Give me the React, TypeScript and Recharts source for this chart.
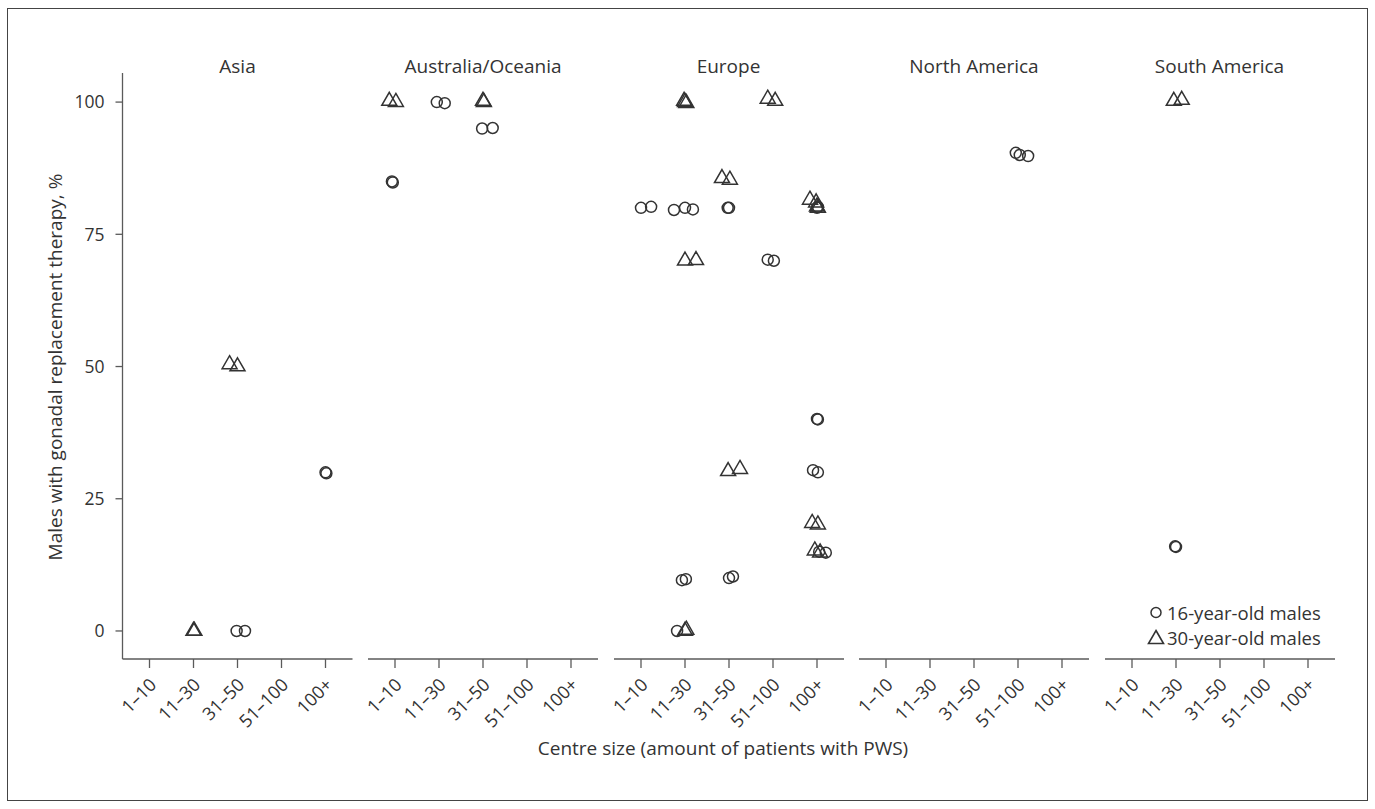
import { ScatterChart, Scatter, XAxis, YAxis, Legend } from "recharts";

const centreSizes = ["1–10", "11–30", "31–50", "51–100", "100+"];
const regions = ["Asia", "Australia/Oceania", "Europe", "North America", "South America"];
const pctTicks = [0, 25, 50, 75, 100];

// [centre size position (1..5, jittered), % of males on gonadal replacement therapy]
const asia16 = [[2.98, 0], [3.17, 0], [5.0, 30], [5.02, 29.8]];
const asia30 = [[2.0, 0], [2.02, 0], [2.82, 50.4], [3.0, 50]];

const oceania16 = [[1.95, 100], [2.13, 99.8], [2.98, 95], [3.22, 95.1], [0.93, 85], [0.95, 84.8]];
const oceania30 = [[0.87, 100.2], [1.02, 100], [3.0, 100.2], [3.02, 100]];

const europe16 = [
  [1.0, 80], [1.23, 80.2], [1.75, 79.6], [2.0, 80], [2.18, 79.7], [2.97, 80], [3.0, 80],
  [5.0, 80], [5.02, 80.2], [3.88, 70.2], [4.02, 70], [5.02, 40], [5.0, 40.1],
  [4.91, 30.4], [5.02, 30], [5.2, 14.8], [5.05, 15], [1.93, 9.6], [2.02, 9.8],
  [3.0, 10], [3.09, 10.3], [1.82, 0],
];
const europe30 = [
  [1.98, 100.2], [2.0, 100], [2.03, 99.8], [3.88, 100.6], [4.05, 100.2],
  [2.84, 85.6], [3.02, 85.3], [4.84, 81.5], [4.98, 81], [5.0, 80.2], [5.02, 80],
  [2.0, 70], [2.25, 70.1], [2.98, 30.2], [3.25, 30.6], [4.89, 20.4], [5.02, 20.1],
  [4.95, 15.2], [5.07, 14.8], [2.0, 0], [2.03, 0.2],
];

const northAmerica16 = [[3.95, 90.4], [4.04, 90], [4.23, 89.8]];
const northAmerica30: number[][] = [];

const southAmerica16 = [[1.98, 16], [2.0, 15.9]];
const southAmerica30 = [[1.95, 100.2], [2.13, 100.4]];

const males16 = [asia16, oceania16, europe16, northAmerica16, southAmerica16];
const males30 = [asia30, oceania30, europe30, northAmerica30, southAmerica30];

const toPoints = (rows: number[][]) => rows.map(([x, y]) => ({ x, y }));

const INK = "#333";
const AXIS = "#5a5a5a";
const FONT = "'Open Sans', sans-serif";

const PLOT_TOP = 73;
const PLOT_BOTTOM = 659;
const PLOT_W = 230;
const FIRST_LEFT = 122.5;
const STRIDE = 245.5;
const X_AXIS_H = 80;
const PAD = 27 / 44;

const CircleMark = (p: any) => (
  <circle cx={p.cx} cy={p.cy} r={5.5} fill="none" stroke={INK} strokeWidth={1.5} />
);

const TriangleMark = (p: any) => (
  <path
    d={`M${p.cx},${p.cy - 8.7}L${p.cx + 7.5},${p.cy + 4.3}L${p.cx - 7.5},${p.cy + 4.3}Z`}
    fill="none"
    stroke={INK}
    strokeWidth={1.5}
  />
);

const SizeTick = (p: any) => {
  const tx = p.x + 8;
  const ty = p.y + 18;
  return (
    <text
      x={tx}
      y={ty}
      transform={`rotate(-45, ${tx}, ${ty})`}
      textAnchor="end"
      fontSize={18}
      fill={INK}
    >
      {centreSizes[p.payload.value - 1]}
    </text>
  );
};

const LegendBox = (props: any) => (
  <div style={{ fontFamily: FONT, fontSize: 18.5, color: INK, lineHeight: "25px" }}>
    {(props.payload || []).map((entry: any, i: number) => (
      <div key={i} style={{ display: "flex", alignItems: "center", whiteSpace: "nowrap" }}>
        <svg width={20} height={25} style={{ marginRight: 1 }}>
          {i === 0 ? (
            <circle cx={10} cy={12.5} r={5} fill="none" stroke={INK} strokeWidth={1.5} />
          ) : (
            <path d="M10,5.5L17.5,18.5L2.5,18.5Z" fill="none" stroke={INK} strokeWidth={1.6} />
          )}
        </svg>
        {entry.value}
      </div>
    ))}
  </div>
);

const Panel = ({ i }: { i: number }) => {
  const first = i === 0;
  const last = i === regions.length - 1;
  const plotLeft = FIRST_LEFT + i * STRIDE;
  const ml = first ? 0 : 10;
  const yw = first ? plotLeft : 0;
  const chartLeft = first ? 0 : plotLeft - ml;
  const width = ml + yw + PLOT_W + 10;
  return (
    <div style={{ position: "absolute", left: chartLeft, top: 0 }}>
      <ScatterChart
        width={width}
        height={PLOT_BOTTOM + X_AXIS_H}
        margin={{ top: PLOT_TOP, right: 10, bottom: 0, left: ml }}
      >
        <XAxis
          type="number"
          dataKey="x"
          domain={[1 - PAD, 5 + PAD]}
          ticks={[1, 2, 3, 4, 5]}
          interval={0}
          allowDataOverflow
          height={X_AXIS_H}
          stroke={AXIS}
          strokeWidth={1.3}
          tickSize={9}
          tickMargin={0}
          tick={<SizeTick />}
        />
        <YAxis
          type="number"
          dataKey="y"
          domain={[-5.3, 105.5]}
          ticks={pctTicks}
          allowDataOverflow
          width={yw}
          stroke={AXIS}
          strokeWidth={1.3}
          tickSize={first ? 7 : 0}
          tickLine={first}
          tickMargin={11}
          tick={first ? { fontSize: 17.5, fill: INK } : false}
        />
        <Scatter
          name="16-year-old males"
          data={toPoints(males16[i])}
          shape={<CircleMark />}
          isAnimationActive={false}
        />
        <Scatter
          name="30-year-old males"
          data={toPoints(males30[i])}
          shape={<TriangleMark />}
          isAnimationActive={false}
        />
        {last && (
          <Legend
            layout="horizontal"
            verticalAlign="middle"
            align="center"
            content={<LegendBox />}
            wrapperStyle={{ left: 1146 - chartLeft, top: 599.5, width: "auto", height: "auto" }}
          />
        )}
      </ScatterChart>
      <div
        style={{
          position: "absolute",
          left: plotLeft - chartLeft,
          top: 54.5,
          width: PLOT_W,
          textAlign: "center",
          fontSize: 19,
          lineHeight: "22px",
          color: INK,
        }}
      >
        {regions[i]}
      </div>
    </div>
  );
};

export default function App() {
  return (
    <div
      style={{
        position: "absolute",
        left: 0,
        top: 0,
        width: 1375,
        height: 809,
        fontFamily: FONT,
        background: "#fff",
      }}
    >
      <div
        style={{
          position: "absolute",
          left: 7,
          top: 8,
          width: 1361,
          height: 793,
          border: "1.5px solid #444",
          boxSizing: "border-box",
        }}
      />
      {regions.map((_, i) => (
        <Panel key={i} i={i} />
      ))}
      <div
        style={{
          position: "absolute",
          left: 55 - 250,
          top: 367 - 12,
          width: 500,
          height: 24,
          lineHeight: "24px",
          textAlign: "center",
          transform: "rotate(-90deg)",
          fontSize: 19,
          color: INK,
        }}
      >
        Males with gonadal replacement therapy, %
      </div>
      <div
        style={{
          position: "absolute",
          left: 723 - 300,
          top: 736,
          width: 600,
          lineHeight: "24px",
          textAlign: "center",
          fontSize: 19,
          color: INK,
        }}
      >
        Centre size (amount of patients with PWS)
      </div>
    </div>
  );
}
